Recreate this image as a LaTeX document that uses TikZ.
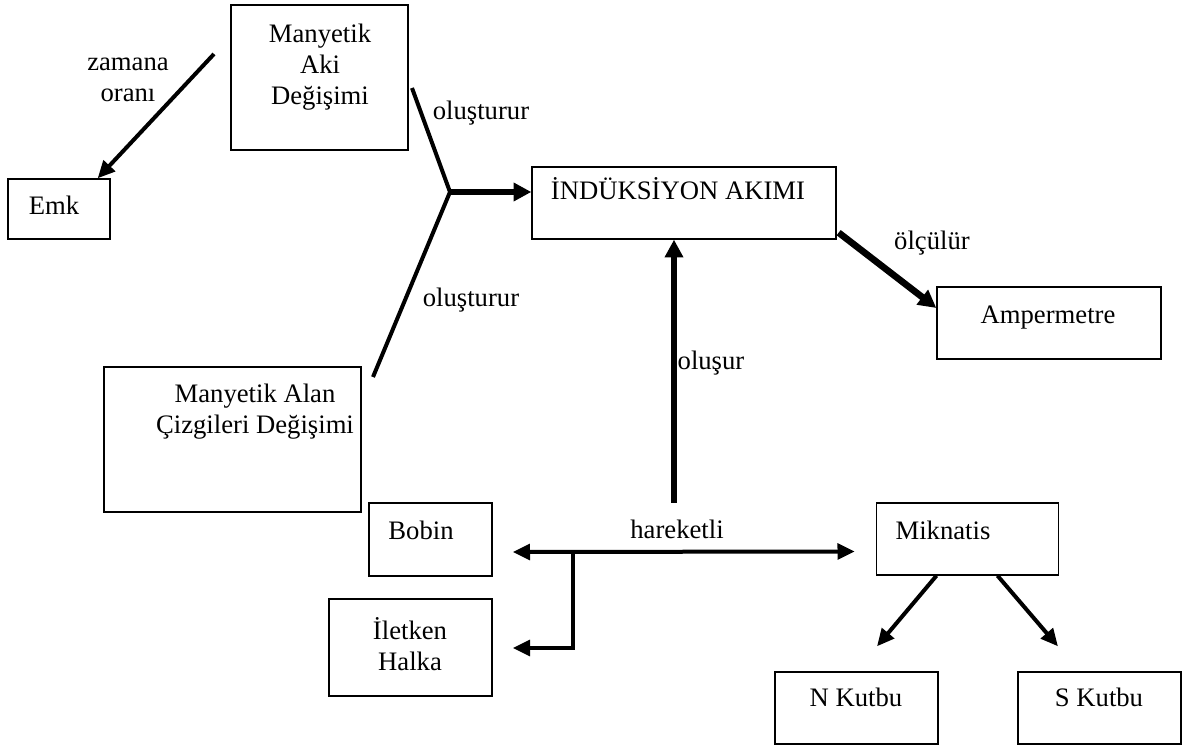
\documentclass[tikz,border=0pt]{standalone}
\usepackage{fontspec}
\setmainfont{Liberation Serif}
\usetikzlibrary{arrows.meta,calc}
\tikzset{
  box/.style 2 args={draw, line width=0.6pt, minimum width=#1*0.45pt, minimum height=#2*0.45pt, inner sep=0pt},
  txt/.style={font=\fontsize{12}{14}\selectfont, inner sep=0pt, align=center},
  lbl/.style={font=\fontsize{12}{14}\selectfont, inner sep=0pt, text height=1.5ex, text depth=.25ex},
  conn/.style={line width=1.8pt},
  arr/.style={conn, -{Triangle[length=7.8pt,width=7pt]}},
  bold/.style={line width=3pt, -{Triangle[length=8pt,width=8pt]}}
}
\begin{document}
\begin{tikzpicture}[x=0.45pt, y=-0.45pt]
    \useasboundingbox (0,0) rectangle (1184,747);

    % Boxes
    \node[box={177}{145}] (aki) at (319.5,77.5) {};
    \node[box={102}{60}] (emk) at (59,209) {};
    \node[box={304}{72}] (ind) at (684,203) {};
    \node[box={224}{72}] (amp) at (1049,323) {};
    \node[box={257}{145}] (cizgi) at (232.5,439.5) {};
    \node[box={123}{73}] (bobin) at (430.5,539.5) {};
    \node[box={163}{97}] (halka) at (410.5,647.5) {};
    \node[box={182}{72}] (mik) at (967.5,539) {};
    \node[box={163}{72}] (nkutbu) at (856.5,708) {};
    \node[box={163}{72}] (skutbu) at (1099.5,708) {};

    % Box texts
    \node[txt] (akiT) at (320,67) {Manyetik\\Aki\\Değişimi};
    \node[lbl] (emkT) at (54,208) {Emk};
    \node[lbl] (indT) at (678,193) {İNDÜKSİYON AKIMI};
    \node[lbl] (ampT) at (1048,317) {Ampermetre};
    \node[txt] (cizgiT) at (255,412) {Manyetik Alan\\Çizgileri Değişimi};
    \node[lbl] (bobinT) at (421,533) {Bobin};
    \node[txt] (halkaT) at (410,644) {İletken\\Halka};
    \node[lbl] (mikT) at (943,533) {Miknatis};
    \node[lbl] (nkutbuT) at (856,700) {N Kutbu};
    \node[lbl] (skutbuT) at (1099,700) {S Kutbu};

    % Aki -> Emk
    \coordinate (zs) at (214,54);
    \draw[arr] (zs) -- ($(emk.north east)+(-13,0)$);
    \node[txt] (zamanaT) at (128,80) {zamana\\oranı};

    % Two causes -> induction current
    \coordinate (ja) at (412,88);
    \coordinate (junc) at (450,192);
    \coordinate (jb) at (373,377);
    \draw[conn] (ja) -- (junc) -- (jb);
    \draw[bold] (junc) -- (ind.west |- junc);
    \node[lbl] (olusT1) at (481,113) {oluşturur};
    \node[lbl] (olusT2) at (471,300) {oluşturur};

    % Measured by
    \draw[bold] ($(ind.south east)+(2,-7)$) -- ($(amp.west)+(0,-15)$);
    \node[lbl] (olcT) at (932,243) {ölçülür};

    % Motion
    \coordinate (hs) at (674,503);
    \draw[bold] (hs) -- ($(ind.south)+(-10,0)$);
    \node[lbl] (olusurT) at (711,363) {oluşur};
    \draw[conn, {Triangle[length=7.8pt,width=7pt]}-{Triangle[length=7.8pt,width=7pt]}]
        ($(bobin.east)+(20,12.5)$) -- ($(mik.west)+(-21,12.5)$);
    \coordinate (br) at (573,552);
    \draw[arr] (br) |- ($(halka.east)+(20,0.5)$);
    \node[lbl] (harT) at (677,532) {hareketli};

    % Poles
    \draw[arr] ($(mik.south)+(-31,0)$) -- ($(nkutbu.north)+(20.5,-25)$);
    \draw[arr] ($(mik.south)+(30,0)$) -- ($(skutbu.north)+(-41.5,-25)$);
\end{tikzpicture}
\end{document}
